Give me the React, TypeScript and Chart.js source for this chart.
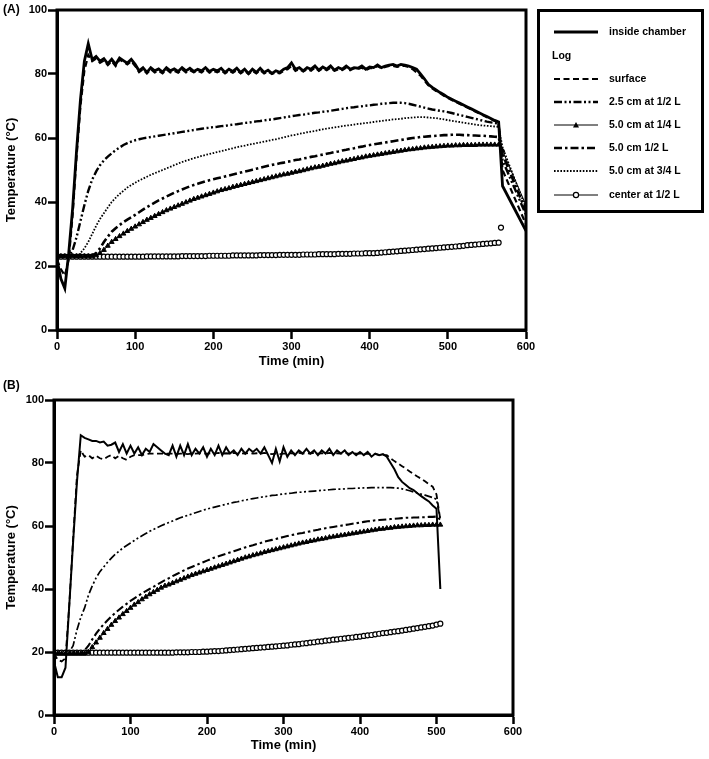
import { useEffect, useRef } from "react";
import { Chart, registerables } from "chart.js";

Chart.register(...registerables);

const FONT = "'Liberation Sans', Arial, Helvetica, sans-serif";

const seriesNames = [
  "inside chamber",
  "surface",
  "2.5 cm at 1/2 L",
  "5.0 cm at 1/4 L",
  "5.0 cm 1/2 L",
  "5.0 cm at 3/4 L",
  "center at 1/2 L",
];
const logHeading = "Log";
const xTitle = "Time (min)";
const yTitle = "Temperature (°C)";

// ---------- Panel A (time in min, temperature in °C) ----------
const timeA = [
  0, 5, 10, 15, 20, 25, 30, 35, 40, 45,
  50, 55, 60, 65, 70, 75, 80, 85, 90, 95,
  100, 105, 110, 115, 120, 125, 130, 135, 140, 145,
  150, 155, 160, 165, 170, 175, 180, 185, 190, 195,
  200, 205, 210, 215, 220, 225, 230, 235, 240, 245,
  250, 255, 260, 265, 270, 275, 280, 285, 290, 295,
  300, 305, 310, 315, 320, 325, 330, 335, 340, 345,
  350, 355, 360, 365, 370, 375, 380, 385, 390, 395,
  400, 405, 410, 415, 420, 425, 430, 435, 440, 445,
  450, 455, 460, 465, 470, 475, 480, 485, 490, 495,
  500, 505, 510, 515, 520, 525, 530, 535, 540, 545,
  550, 555, 560, 565,
  570, 600,
];
const chamberA = [
  22, 16, 13, 24, 38, 56, 72, 84, 89.5, 84.5,
  85.5, 84, 84.8, 83.2, 84.6, 83, 85, 84.2, 83.4, 84.6,
  83, 81, 82, 80.5, 82, 81, 81.6, 80.6, 82, 81,
  81.6, 80.8, 82, 81, 81.8, 80.8, 81.5, 81, 82, 80.8,
  81.5, 81, 81.8, 80.5, 81.5, 80.8, 81.8, 80.5, 81.5, 80.2,
  81.5, 80.5, 81.8, 80.5, 81.2, 80.2, 81, 80.5, 81.5, 82,
  83.5, 81.5, 82, 81, 82, 81.5, 82.5, 81.2, 82.2, 81.5,
  82.5, 81.2, 82, 81.5, 82.5, 81.5, 82, 81.8, 82.5, 81.5,
  82.2, 82, 82.8, 82, 82.5, 82.8, 83, 82.5, 83, 82.8,
  82.5, 82, 81.5, 80, 78.5, 76.8, 75.8, 75, 74.2, 73.5,
  72.7, 72.1, 71.5, 70.9, 70.3, 69.7, 69.1, 68.5, 67.9, 67.3,
  66.7, 66.1, 65.5, 65,
  45, 31,
];
const surfaceA = [
  22, 19, 17, 22, 36, 54, 70, 81, 86, 84,
  84.8, 83.5, 84.2, 82.8, 84, 82.5, 84.5, 83.8, 83, 84,
  82.5, 80.6, 81.5, 80.2, 81.5, 80.5, 81, 80.2, 81.5, 80.5,
  81, 80.4, 81.5, 80.5, 81.2, 80.5, 81, 80.5, 81.5, 80.4,
  81, 80.5, 81.2, 80.2, 81, 80.4, 81.2, 80.2, 81, 80,
  81, 80.2, 81.2, 80.2, 80.8, 80, 80.5, 80.2, 81, 81.5,
  82.5, 81, 81.5, 80.8, 81.5, 81, 82, 81, 81.8, 81.2,
  82, 81, 81.5, 81.2, 82, 81.2, 81.8, 81.5, 82, 81.2,
  81.8, 81.8, 82.5, 81.8, 82.2, 82.5, 82.5, 82.2, 82.5, 82.5,
  82.2, 81.5, 80.5, 79.5, 78, 76.5, 75.5, 74.7, 74, 73.2,
  72.5, 71.9, 71.3, 70.7, 70.1, 69.5, 68.9, 68.3, 67.7, 67.1,
  66.5, 65.9, 65.3, 64.8,
  50, 33,
];
const cm25A = [
  23, 23, 23, 23, 25, 29, 34, 39, 43.5, 47,
  49.5, 51.5, 53, 54.2, 55.2, 56.2, 57, 57.8, 58.4, 58.9,
  59.3, 59.6, 59.9, 60.1, 60.3, 60.5, 60.7, 60.9, 61.1, 61.3,
  61.5, 61.7, 61.9, 62.1, 62.3, 62.5, 62.7, 62.9, 63.1, 63.2,
  63.4, 63.5, 63.7, 63.8, 64, 64.2, 64.3, 64.5, 64.7, 64.8,
  65, 65.2, 65.3, 65.5, 65.7, 65.8, 66, 66.2, 66.4, 66.6,
  66.8, 67, 67.2, 67.3, 67.5, 67.7, 67.9, 68, 68.2, 68.3,
  68.5, 68.7, 68.9, 69.1, 69.3, 69.5, 69.6, 69.8, 69.9, 70.1,
  70.2, 70.4, 70.5, 70.7, 70.8, 70.9, 71, 71, 71, 70.9,
  70.7, 70.4, 70.1, 69.8, 69.5, 69.2, 68.9, 68.7, 68.5, 68.3,
  68.1, 67.8, 67.5, 67.2, 66.9, 66.6, 66.3, 66, 65.7, 65.4,
  65.1, 64.9, 64.7, 64.5,
  53, 36,
];
const quarterA = [
  23, 23, 23, 23, 23, 23, 23, 23, 23, 23,
  23.3, 24, 25, 26.3, 27.5, 28.4, 29.3, 30.1, 30.9, 31.6,
  32.3, 33, 33.7, 34.4, 35, 35.6, 36.2, 36.8, 37.4, 37.9,
  38.4, 38.9, 39.4, 39.9, 40.4, 40.9, 41.3, 41.7, 42.1, 42.5,
  42.9, 43.3, 43.7, 44, 44.3, 44.7, 45, 45.3, 45.6, 45.9,
  46.2, 46.5, 46.8, 47.1, 47.4, 47.7, 48, 48.3, 48.6, 48.8,
  49.1, 49.4, 49.6, 49.9, 50.2, 50.5, 50.8, 51, 51.3, 51.6,
  51.9, 52.1, 52.4, 52.7, 52.9, 53.2, 53.4, 53.7, 53.9, 54.2,
  54.4, 54.6, 54.8, 55, 55.2, 55.4, 55.6, 55.8, 56, 56.2,
  56.4, 56.5, 56.7, 56.8, 57, 57.1, 57.2, 57.3, 57.4, 57.5,
  57.6, 57.6, 57.7, 57.7, 57.8, 57.8, 57.8, 57.8, 57.9, 57.9,
  57.9, 57.9, 57.9, 57.9,
  56, 39,
];
const halfA = [
  23, 23, 23, 23, 23, 23, 23, 23, 23, 23.3,
  24, 25.5, 27.5, 29.2, 30.7, 31.8, 32.8, 33.7, 34.5, 35.2,
  36, 36.8, 37.6, 38.4, 39.1, 39.8, 40.5, 41.1, 41.7, 42.3,
  42.9, 43.4, 43.9, 44.4, 44.9, 45.3, 45.7, 46.1, 46.5, 46.8,
  47.1, 47.4, 47.7, 48, 48.3, 48.6, 48.9, 49.2, 49.5, 49.8,
  50.1, 50.4, 50.7, 51, 51.3, 51.6, 51.8, 52.1, 52.3, 52.6,
  52.8, 53.1, 53.3, 53.6, 53.8, 54.1, 54.3, 54.6, 54.8, 55.1,
  55.3, 55.6, 55.8, 56.1, 56.3, 56.6, 56.8, 57.1, 57.3, 57.6,
  57.8, 58, 58.2, 58.4, 58.6, 58.8, 59, 59.2, 59.4, 59.6,
  59.8, 60, 60.1, 60.3, 60.4, 60.5, 60.6, 60.7, 60.8, 60.9,
  60.9, 61, 61, 61, 60.9, 60.9, 60.8, 60.8, 60.7, 60.7,
  60.6, 60.5, 60.4, 60.3,
  55, 37,
];
const threeQuarterA = [
  23, 23, 23, 23, 23, 23, 24, 25.5, 27.5, 30,
  32.5, 34.7, 36.5, 38.3, 40, 41.3, 42.5, 43.5, 44.5, 45.3,
  46, 46.7, 47.3, 47.9, 48.5, 49, 49.5, 50, 50.5, 51,
  51.5, 52, 52.5, 52.9, 53.3, 53.7, 54, 54.4, 54.7, 55,
  55.3, 55.6, 55.9, 56.2, 56.5, 56.8, 57.1, 57.4, 57.6, 57.9,
  58.1, 58.4, 58.6, 58.9, 59.1, 59.4, 59.6, 59.9, 60.2, 60.5,
  60.8, 61, 61.3, 61.5, 61.8, 62, 62.2, 62.5, 62.7, 62.9,
  63.1, 63.3, 63.5, 63.7, 63.9, 64, 64.2, 64.4, 64.5, 64.7,
  64.8, 65, 65.2, 65.3, 65.5, 65.6, 65.8, 65.9, 66, 66.2,
  66.3, 66.4, 66.5, 66.5, 66.5, 66.4, 66.3, 66.2, 66, 65.8,
  65.6, 65.4, 65.2, 65, 64.8, 64.6, 64.4, 64.2, 64, 63.9,
  63.8, 63.7, 63.6, 63.5,
  57, 38,
];
const centerA = [
  22.9, 22.9, 22.9, 22.9, 22.9, 22.9, 22.9, 22.9, 22.9, 22.9,
  22.9, 22.9, 22.9, 22.9, 22.9, 22.9, 22.9, 22.9, 22.9, 22.9,
  22.9, 22.9, 22.9, 23, 23, 23, 23, 23, 23, 23,
  23, 23, 23.1, 23.1, 23.1, 23.1, 23.1, 23.1, 23.1, 23.2,
  23.2, 23.2, 23.2, 23.2, 23.2, 23.3, 23.3, 23.3, 23.3, 23.3,
  23.3, 23.3, 23.4, 23.4, 23.4, 23.4, 23.4, 23.5, 23.5, 23.5,
  23.5, 23.5, 23.5, 23.6, 23.6, 23.6, 23.6, 23.7, 23.7, 23.7,
  23.7, 23.7, 23.8, 23.8, 23.8, 23.8, 23.9, 23.9, 23.9, 24,
  24, 24, 24.1, 24.2, 24.3, 24.4, 24.5, 24.6, 24.7, 24.8,
  24.9, 25, 25.1, 25.2, 25.3, 25.4, 25.5, 25.6, 25.7, 25.8,
  25.9, 26, 26.1, 26.2, 26.3, 26.5, 26.6, 26.7, 26.8, 26.9,
  27, 27.1, 27.2, 27.3,
  null, null,
];
// single late reading of the centre probe
const centerLateTimeA = [568];
const centerLateTempA = [32];

// ---------- Panel B ----------
const timeB = [
  0, 5, 10, 15, 20, 25, 30, 35, 40, 45,
  50, 55, 60, 65, 70, 75, 80, 85, 90, 95,
  100, 105, 110, 115, 120, 125, 130, 135, 140, 145,
  150, 155, 160, 165, 170, 175, 180, 185, 190, 195,
  200, 205, 210, 215, 220, 225, 230, 235, 240, 245,
  250, 255, 260, 265, 270, 275, 280, 285, 290, 295,
  300, 305, 310, 315, 320, 325, 330, 335, 340, 345,
  350, 355, 360, 365, 370, 375, 380, 385, 390, 395,
  400, 405, 410, 415, 420, 425, 430, 435, 440, 445,
  450, 455, 460, 465, 470, 475, 480, 485, 490, 495,
  500, 505,
];
const chamberB = [
  17, 12, 12, 15, 35, 55, 74, 88.8, 88, 87.5,
  87, 87, 86.5, 86.8, 85.5, 85.8, 86.5, 83.5, 86, 83,
  85.5, 83, 85, 82.5, 84.5, 83.5, 86, 85, 84, 83,
  82.5, 85.5, 82, 85.5, 82.5, 86, 82.5, 84.5, 83, 85,
  82, 84.5, 82.5, 85.5, 82.5, 85, 83, 84, 82.5, 84.5,
  83, 84.5, 83.5, 84.5, 83, 85, 82.5, 80, 84.5, 80.5,
  85, 82, 84, 82.5, 84, 83, 84.5, 83, 84, 82.5,
  84, 83, 84.5, 82.5, 84, 83, 84, 82.5, 83.5, 82.5,
  83.5, 82.5, 83.5, 82, 83, 82.5, 82.8, 82, 80, 78,
  75.5, 74, 73, 72, 71.4, 70.4, 69.5, 68.6, 67.8, 66.5,
  65.5, 40,
];
const surfaceB = [
  19.5, 17.5, 17, 18, 35, 56, 76, 84, 82, 82.5,
  81.5, 82.3, 81.5, 81.2, 82, 82.5, 81.5, 82.3, 81.5, 81,
  82, 82.5, 82.5, 82.5, 82.8, 83, 83, 83, 83, 83,
  83, 83, 82.8, 83, 83, 82.8, 83, 83, 83.1, 83,
  83, 83.1, 83, 83.2, 83, 83.1, 83, 83.2, 83, 83.1,
  83, 83.2, 83, 83.1, 83, 83.2, 83, 82.8, 83, 82.8,
  83, 83, 83.1, 83, 83.2, 83, 83.1, 83, 83.2, 83,
  83.1, 83, 83.2, 83, 83.1, 83, 83.2, 83, 83.1, 83,
  83, 82.8, 83, 82.8, 82.8, 82.6, 82.5, 82.5, 81.5, 80.6,
  79.8, 79, 78.2, 77.3, 76.5, 75.7, 75, 74.2, 73.3, 72.5,
  70, 62,
];
const cm25B = [
  19.5, 19.5, 19.5, 19.5, 20, 22, 27, 31, 34, 38,
  41, 43.5, 45.5, 47, 48.5, 49.8, 51, 52, 53, 53.8,
  54.6, 55.4, 56.2, 56.9, 57.6, 58.3, 58.9, 59.5, 60.1, 60.6,
  61.1, 61.6, 62.1, 62.6, 63, 63.4, 63.8, 64.2, 64.6, 65,
  65.4, 65.7, 66, 66.3, 66.6, 66.9, 67.2, 67.5, 67.7, 68,
  68.2, 68.5, 68.7, 68.9, 69.1, 69.3, 69.5, 69.7, 69.8, 70,
  70.2, 70.3, 70.4, 70.6, 70.7, 70.8, 70.9, 71, 71.1, 71.2,
  71.3, 71.4, 71.5, 71.6, 71.7, 71.7, 71.8, 71.9, 71.9, 72,
  72, 72.1, 72.1, 72.2, 72.2, 72.2, 72.2, 72.2, 72.2, 72.1,
  72, 71.8, 71.5, 71.2, 70.8, 70.5, 70.1, 69.8, 69.4, 69,
  68.5, 62,
];
const quarterB = [
  19.5, 19.5, 19.5, 19.5, 19.5, 19.5, 19.5, 19.5, 19.5, 20,
  21.5, 23, 24.5, 26, 27.3, 28.6, 29.8, 30.9, 32, 33,
  34, 35, 35.8, 36.7, 37.5, 38.3, 39, 39.7, 40.4, 41,
  41.4, 41.9, 42.4, 42.9, 43.4, 43.9, 44.4, 44.8, 45.2, 45.6,
  46, 46.4, 46.8, 47.2, 47.6, 48, 48.4, 48.8, 49.2, 49.6,
  50, 50.3, 50.7, 51, 51.3, 51.7, 52, 52.3, 52.6, 52.9,
  53.2, 53.5, 53.8, 54.1, 54.4, 54.7, 54.9, 55.2, 55.4, 55.7,
  55.9, 56.1, 56.4, 56.6, 56.8, 57, 57.2, 57.4, 57.6, 57.8,
  58, 58.2, 58.4, 58.6, 58.8, 59, 59.1, 59.3, 59.4, 59.6,
  59.7, 59.8, 59.9, 60, 60.1, 60.2, 60.2, 60.3, 60.3, 60.4,
  60.4, 60.4,
];
const halfB = [
  19.5, 19.5, 19.5, 19.5, 19.5, 19.5, 19.5, 19.5, 20.5, 22,
  24, 25.8, 27.4, 28.8, 30.1, 31.3, 32.4, 33.4, 34.4, 35.3,
  36.2, 37, 37.8, 38.6, 39.3, 40, 40.7, 41.4, 42.1, 42.8,
  43.4, 44.1, 44.7, 45.3, 45.9, 46.5, 47, 47.5, 48, 48.5,
  49, 49.5, 50, 50.4, 50.8, 51.2, 51.6, 52, 52.4, 52.8,
  53.2, 53.6, 53.9, 54.3, 54.6, 55, 55.3, 55.6, 55.9, 56.2,
  56.5, 56.8, 57.1, 57.3, 57.6, 57.8, 58.1, 58.3, 58.6, 58.8,
  59.1, 59.3, 59.5, 59.7, 59.9, 60.1, 60.3, 60.5, 60.7, 60.9,
  61.1, 61.3, 61.5, 61.6, 61.8, 61.9, 62, 62.1, 62.2, 62.3,
  62.4, 62.5, 62.6, 62.6, 62.7, 62.7, 62.8, 62.8, 62.9, 62.9,
  63, 62,
];
const centerB = [
  19.8, 19.8, 19.8, 19.8, 19.8, 19.8, 19.8, 19.8, 19.8, 19.8,
  19.8, 19.8, 19.8, 19.8, 19.8, 19.8, 19.8, 19.8, 19.8, 19.8,
  19.8, 19.8, 19.8, 19.8, 19.8, 19.8, 19.8, 19.8, 19.8, 19.8,
  19.8, 19.8, 19.9, 19.9, 19.9, 19.9, 20, 20, 20, 20.1,
  20.1, 20.2, 20.3, 20.3, 20.4, 20.5, 20.6, 20.7, 20.8, 20.9,
  21, 21.1, 21.2, 21.3, 21.4, 21.5, 21.6, 21.7, 21.8, 21.9,
  22, 22.1, 22.3, 22.4, 22.5, 22.7, 22.8, 23, 23.1, 23.3,
  23.4, 23.6, 23.7, 23.9, 24, 24.2, 24.3, 24.5, 24.6, 24.8,
  24.9, 25.1, 25.3, 25.4, 25.6, 25.8, 26, 26.1, 26.3, 26.5,
  26.6, 26.8, 27, 27.2, 27.4, 27.6, 27.8, 28, 28.2, 28.4,
  28.7, 29,
];

const xTicks = [0, 100, 200, 300, 400, 500, 600];
const yTicks = [0, 20, 40, 60, 80, 100];

// ---------- drawing styles, one per series ----------
type Marker = "triangle" | "circle" | undefined;
interface Look {
  dash: number[];
  wA: number;
  wB: number;
  marker?: Marker;
}
const looks: Look[] = [
  { dash: [], wA: 2.8, wB: 2 },
  { dash: [6, 3.5], wA: 2.2, wB: 1.8 },
  { dash: [8, 2.5, 2, 2.5, 2, 2.5], wA: 2.4, wB: 1.7 },
  { dash: [], wA: 1, wB: 1, marker: "triangle" },
  { dash: [8, 3, 2.5, 3], wA: 2.6, wB: 2.1 },
  { dash: [1.6, 1.6], wA: 1.8, wB: 1.5 },
  { dash: [], wA: 1, wB: 1, marker: "circle" },
];

type Pt = { x: number; y: number | null };
const zip = (t: number[], v: (number | null)[]): Pt[] =>
  t.map((x, i) => ({ x, y: v[i] ?? null }));

function dataset(idx: number, time: number[], values: (number | null)[], panel: "A" | "B", lineOff = false) {
  const lk = looks[idx];
  const hollow = lk.marker === "circle";
  return {
    label: seriesNames[idx],
    data: zip(time, values),
    borderColor: "#000",
    backgroundColor: hollow ? "#fff" : "#000",
    borderWidth: lineOff ? 0 : panel === "A" ? lk.wA : lk.wB,
    borderDash: lk.dash,
    showLine: !lineOff,
    pointStyle: lk.marker ?? "circle",
    pointRadius: lk.marker ? (hollow ? 2.5 : 2.8) : 0,
    pointBorderWidth: hollow ? 1.2 : 1,
    pointBackgroundColor: hollow ? "#fff" : "#000",
    pointBorderColor: "#000",
    tension: 0,
    fill: false,
    spanGaps: false,
  };
}

const tickFont = { family: FONT, size: 11, weight: "bold" as const };
const titleFont = { family: FONT, size: 13, weight: "bold" as const };

function options(pad: { left: number; right: number; top: number; bottom: number }, yWidth: number, xHeight: number) {
  const grid = {
    display: true,
    drawOnChartArea: false,
    drawTicks: true,
    tickLength: 9,
    tickWidth: 2.5,
    tickColor: "#000",
  };
  const border = { display: true, color: "#000", width: 3 };
  return {
    responsive: false,
    animation: false as const,
    events: [],
    layout: { padding: pad },
    plugins: { legend: { display: false }, tooltip: { enabled: false } },
    scales: {
      x: {
        type: "linear" as const,
        min: 0,
        max: 600,
        afterBuildTicks: (s: any) => {
          s.ticks = xTicks.map((value) => ({ value }));
        },
        ticks: { color: "#000", font: tickFont, padding: 1, maxRotation: 0, autoSkip: false },
        grid,
        border,
        title: { display: true, text: xTitle, color: "#000", font: titleFont, padding: { top: 0, bottom: 6 } },
        afterFit: (s: any) => {
          s.height = xHeight;
        },
      },
      y: {
        type: "linear" as const,
        min: 0,
        max: 100,
        afterBuildTicks: (s: any) => {
          s.ticks = yTicks.map((value) => ({ value }));
        },
        ticks: { color: "#000", font: tickFont, padding: 1, autoSkip: false },
        grid,
        border,
        title: { display: true, text: yTitle, color: "#000", font: titleFont, padding: { top: 4, bottom: 0 } },
        afterFit: (s: any) => {
          s.width = yWidth;
        },
      },
    },
  };
}

// heavy box around the plotting area
const framePlugin = {
  id: "frame",
  afterDatasetsDraw(chart: any) {
    const { ctx, chartArea: a } = chart;
    ctx.save();
    ctx.strokeStyle = "#000";
    ctx.lineWidth = 3;
    ctx.strokeRect(a.left, a.top, a.right - a.left, a.bottom - a.top);
    ctx.restore();
  },
};

function drawMarker(ctx: CanvasRenderingContext2D, kind: Marker, x: number, y: number) {
  ctx.setLineDash([]);
  ctx.lineWidth = 1.2;
  ctx.strokeStyle = "#000";
  if (kind === "triangle") {
    const r = 3;
    ctx.fillStyle = "#000";
    ctx.beginPath();
    ctx.moveTo(x, y - r);
    ctx.lineTo(x + r, y + r * 0.8);
    ctx.lineTo(x - r, y + r * 0.8);
    ctx.closePath();
    ctx.fill();
  } else if (kind === "circle") {
    ctx.fillStyle = "#fff";
    ctx.beginPath();
    ctx.arc(x, y, 2.6, 0, Math.PI * 2);
    ctx.fill();
    ctx.stroke();
  }
}

// key box drawn to the right of panel A
const keyPlugin = {
  id: "keyBox",
  afterDraw(chart: any) {
    const ctx: CanvasRenderingContext2D = chart.ctx;
    const box = { x: 538.5, y: 10.5, w: 164, h: 201 };
    const rowsY = [32, 56, 79, 102, 125, 148, 171, 195];
    const x0 = 554;
    const x1 = 598;
    const textX = 609;
    ctx.save();
    ctx.strokeStyle = "#000";
    ctx.lineWidth = 3;
    ctx.strokeRect(box.x, box.y, box.w, box.h);
    ctx.font = `bold 10.5px ${FONT}`;
    ctx.fillStyle = "#000";
    ctx.textBaseline = "middle";
    const order = [0, -1, 1, 2, 3, 4, 5, 6];
    order.forEach((idx, r) => {
      const y = rowsY[r];
      if (idx < 0) {
        ctx.fillStyle = "#000";
        ctx.fillText(logHeading, 552, y);
        return;
      }
      const lk = looks[idx];
      ctx.strokeStyle = "#000";
      ctx.lineWidth = lk.wA;
      ctx.setLineDash(lk.dash);
      ctx.beginPath();
      ctx.moveTo(x0, y);
      ctx.lineTo(x1, y);
      ctx.stroke();
      drawMarker(ctx, lk.marker, (x0 + x1) / 2, y);
      ctx.fillStyle = "#000";
      ctx.fillText(seriesNames[idx], textX, y);
    });
    ctx.restore();
  },
};

export default function App() {
  const refA = useRef<HTMLCanvasElement>(null);
  const refB = useRef<HTMLCanvasElement>(null);

  useEffect(() => {
    const dsA = [
      dataset(0, timeA, chamberA, "A"),
      dataset(1, timeA, surfaceA, "A"),
      dataset(2, timeA, cm25A, "A"),
      dataset(4, timeA, halfA, "A"),
      dataset(5, timeA, threeQuarterA, "A"),
      dataset(3, timeA, quarterA, "A"),
      dataset(6, timeA, centerA, "A"),
      dataset(6, centerLateTimeA, centerLateTempA, "A", true),
    ];
    const dsB = [
      dataset(0, timeB, chamberB, "B"),
      dataset(1, timeB, surfaceB, "B"),
      dataset(2, timeB, cm25B, "B"),
      dataset(4, timeB, halfB, "B"),
      dataset(3, timeB, quarterB, "B"),
      dataset(6, timeB, centerB, "B"),
    ];
    const a = new Chart(refA.current!, {
      type: "line",
      data: { datasets: dsA as any },
      options: options({ left: 0, right: 183, top: 10, bottom: 0 }, 57, 45) as any,
      plugins: [framePlugin, keyPlugin],
    });
    const b = new Chart(refB.current!, {
      type: "line",
      data: { datasets: dsB as any },
      options: options({ left: 0, right: 196, top: 25, bottom: 0 }, 54, 44) as any,
      plugins: [framePlugin],
    });
    return () => {
      a.destroy();
      b.destroy();
    };
  }, []);

  const letter = { position: "absolute" as const, left: 3, font: `bold 12px ${FONT}`, color: "#000", lineHeight: "14px" };
  return (
    <div style={{ position: "absolute", left: 0, top: 0, width: 709, height: 759, background: "#fff" }}>
      <canvas ref={refA} width={709} height={375} style={{ position: "absolute", left: 0, top: 0 }} />
      <canvas ref={refB} width={709} height={384} style={{ position: "absolute", left: 0, top: 375 }} />
      <div style={{ ...letter, top: 2 }}>(A)</div>
      <div style={{ ...letter, top: 378 }}>(B)</div>
    </div>
  );
}
